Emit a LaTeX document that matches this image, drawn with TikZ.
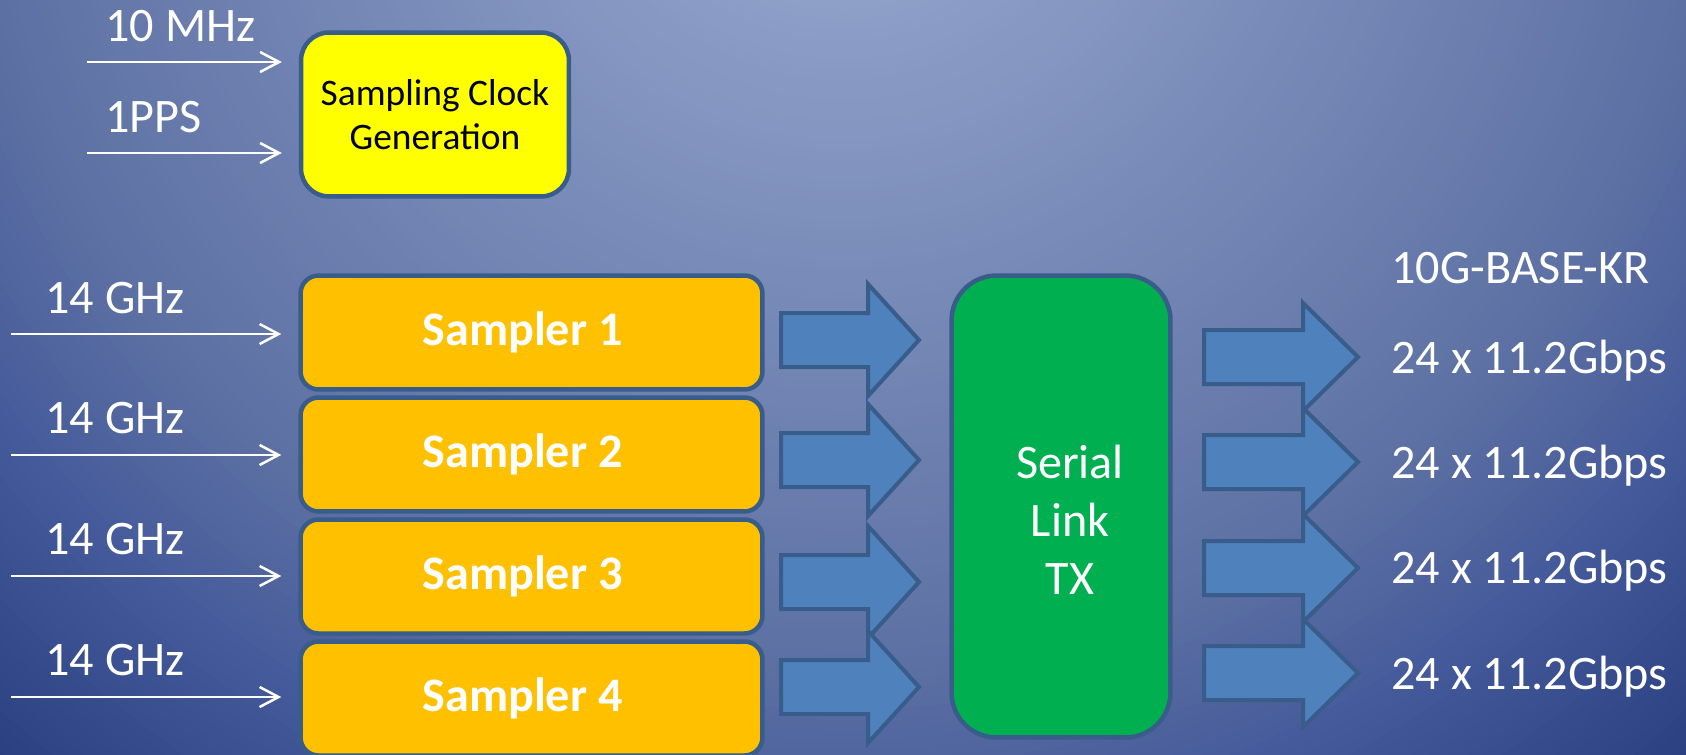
\documentclass[tikz,border=0pt]{standalone}
\usepackage{fontspec}
\setmainfont{Carlito}
\usepackage{xcolor}
\usepackage{tikz}
\usetikzlibrary{arrows.meta}

\definecolor{bgA}{HTML}{9AAAD0}
\definecolor{bgB}{HTML}{8E9FC8}
\definecolor{bgC}{HTML}{5C70A3}
\definecolor{bgD}{HTML}{44599A}
\definecolor{bgE}{HTML}{2A4080}
\definecolor{edgeblue}{HTML}{385D8A}
\definecolor{arrowblue}{HTML}{4F81BD}
\definecolor{clockyellow}{HTML}{FFFF00}
\definecolor{samplerorange}{HTML}{FFC000}
\definecolor{linkgreen}{HTML}{00B050}

\newcommand{\bigfont}{\fontsize{27.4}{33}\selectfont}

\tikzset{
  box/.style={draw=edgeblue, line width=0.09cm, inner sep=0pt},
  wire/.style={draw=white, line width=0.05cm, shorten >=0.34cm, -{Straight Barb[length=0.38cm,width=0.4cm]}},
  fatarrow/.style={fill=arrowblue, draw=edgeblue, line width=0.08cm, line join=miter},
  whitetxt/.style={text=white, font=\bigfont, inner sep=0pt}
}

\begin{document}
\begin{tikzpicture}[x=0.02cm,y=-0.02cm]
			% 背景
			\useasboundingbox (0,0) rectangle (1686,754);
			\begin{scope}
				\clip (0,0) rectangle (1686,754);
				\fill[bgE] (0,0) rectangle (1686,754);
				\foreach \r in {1300,1290,...,1060} {
					\pgfmathtruncatemacro\t{min(100,(\r-1058)/220*100)}
					\fill[bgE!\t!bgD] (843,-200) circle (\r);
				}
				\foreach \r in {1050,1040,...,880} {
					\pgfmathtruncatemacro\t{(\r-873)/185*100}
					\fill[bgD!\t!bgC] (843,-200) circle (\r);
				}
				\foreach \r in {870,860,...,210} {
					\pgfmathtruncatemacro\t{(\r-200)/673*100}
					\fill[bgC!\t!bgB] (843,-200) circle (\r);
				}
			\end{scope}
			% 时钟模块
			\node[box, fill=clockyellow, rounded corners=0.56cm, minimum width=5.36cm, minimum height=3.28cm,
				align=center, font=\fontsize{21.3}{24.9}\selectfont] (clk) at (435,114.5) {Sampling Clock\\Generation};
			\node[whitetxt, anchor=base west] (ref) at (105,41) {10 MHz};
			\node[whitetxt, anchor=base west] (pps) at (105,132) {1PPS};
			\coordinate (refin) at (87,62);
			\coordinate (ppsin) at (87,153);
			\draw[wire] (refin) -- (refin -| clk.west);
			\draw[wire] (ppsin) -- (ppsin -| clk.west);
			% 采样器
			\foreach \i/\y/\lb/\ar in {1/332.5/313/334, 2/454.5/433/455, 3/576.5/554/576, 4/698.5/675/697} {
				\node[box, fill=samplerorange, rounded corners=0.36cm, minimum width=9.24cm, minimum height=2.28cm,
					text=white, font=\bfseries\bigfont] (s\i) at (531.5,\y) {Sampler \i\hspace*{0.36cm}};
				\node[whitetxt, anchor=base west] (f\i) at (45,\lb) {14 GHz};
				\coordinate (in\i) at (11,\ar);
				\draw[wire] (in\i) -- (in\i -| s\i.west);
			}
			% 串行链路
			\node[box, fill=linkgreen, rounded corners=0.9cm, minimum width=4.38cm, minimum height=9.24cm] (tx) at (1061,506.5) {};
			\node[whitetxt, align=center, font=\fontsize{27.4}{33}\selectfont] (txlabel) at (1070,520) {Serial\\Link\\TX};
			% 粗箭头
			\foreach \y in {340,460,582,687}
				\draw[fatarrow] (781,{\y-27}) -- (868,{\y-27}) -- (868,{\y-56}) -- (919,\y)
					-- (868,{\y+56}) -- (868,{\y+27}) -- (781,{\y+27}) -- cycle;
			\foreach \y in {357,462,568,673}
				\draw[fatarrow] (1204,{\y-27}) -- (1303,{\y-27}) -- (1303,{\y-54}) -- (1358,\y)
					-- (1303,{\y+54}) -- (1303,{\y+27}) -- (1204,{\y+27}) -- cycle;
			% 输出
			\node[whitetxt, anchor=base west] (kr) at (1391,283) {10G-BASE-KR};
			\foreach \i/\b in {1/373, 2/478, 3/583, 4/689}
				\node[whitetxt, anchor=base west] (rate\i) at (1391,\b) {24 x 11.2Gbps};
		\end{tikzpicture}
\end{document}
